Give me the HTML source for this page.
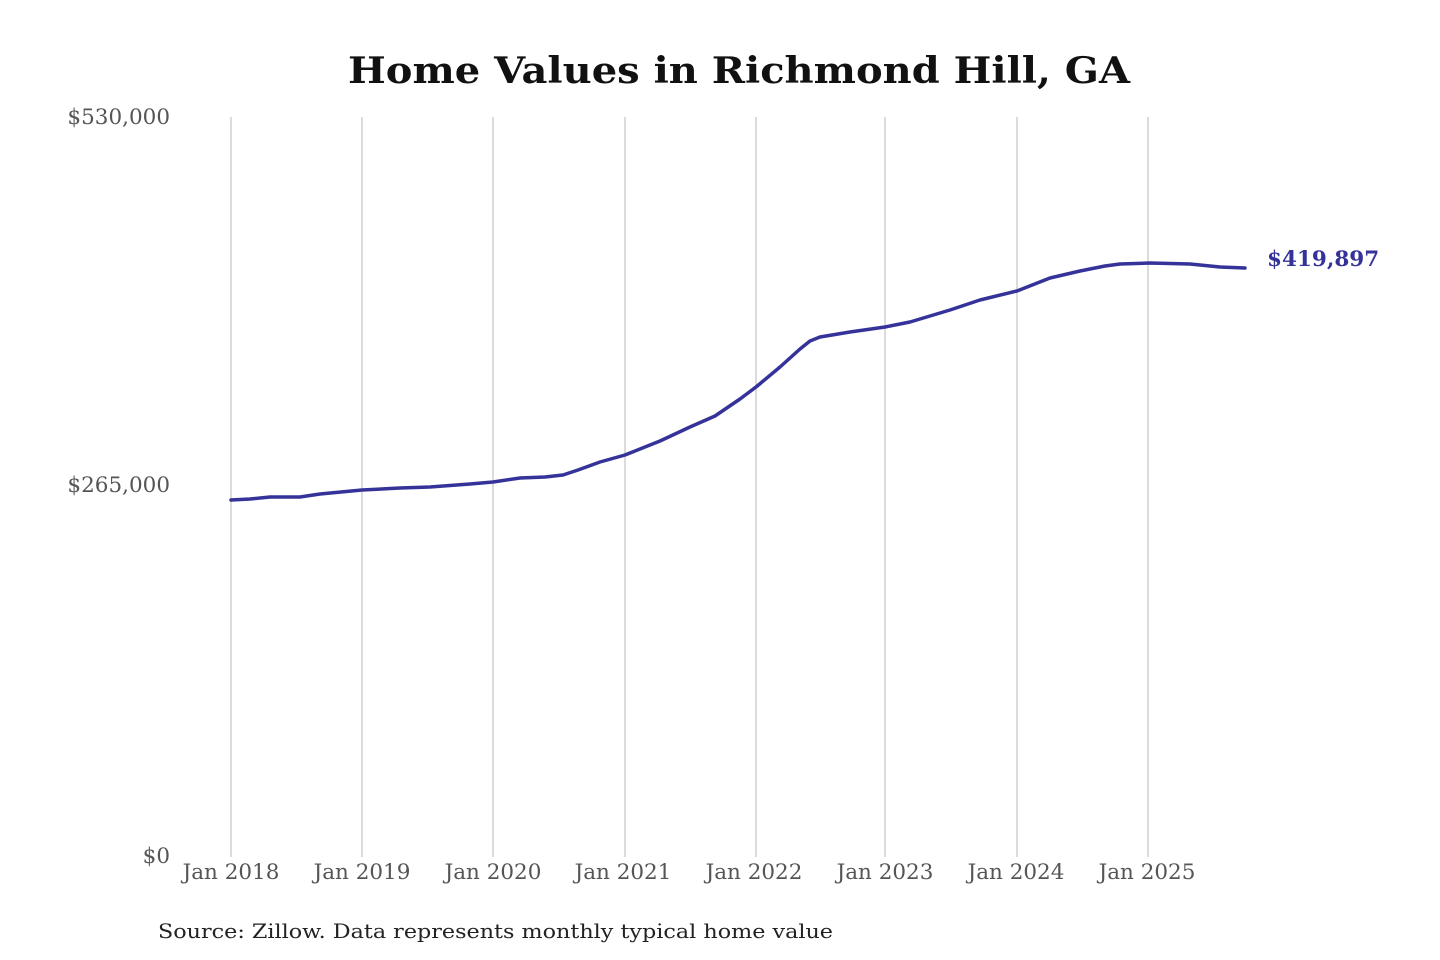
<!DOCTYPE html>
<html><head><meta charset="utf-8"><style>
html,body{margin:0;padding:0;background:#fff;}
svg{display:block;}
</style></head><body>
<svg width="1440" height="960" xmlns="http://www.w3.org/2000/svg" font-family="'DejaVu Serif','Liberation Serif',serif">
<rect width="1440" height="960" fill="#fff"/>
<text x="739" y="83" text-anchor="middle" font-size="36" font-weight="bold" fill="#111" textLength="782" lengthAdjust="spacingAndGlyphs">Home Values in Richmond Hill, GA</text>
<g stroke="#c8c8c8" stroke-width="1.3">
<line x1="231" y1="117" x2="231" y2="857"/>
<line x1="362" y1="117" x2="362" y2="857"/>
<line x1="493" y1="117" x2="493" y2="857"/>
<line x1="625" y1="117" x2="625" y2="857"/>
<line x1="756" y1="117" x2="756" y2="857"/>
<line x1="885" y1="117" x2="885" y2="857"/>
<line x1="1017" y1="117" x2="1017" y2="857"/>
<line x1="1148" y1="117" x2="1148" y2="857"/>
</g>
<g font-size="21.5" fill="#555" text-anchor="end">
<text x="170" y="124">$530,000</text>
<text x="170" y="492">$265,000</text>
<text x="170" y="863">$0</text>
</g>
<g font-size="21.5" fill="#555" text-anchor="middle">
<text x="231" y="879">Jan 2018</text>
<text x="362" y="879">Jan 2019</text>
<text x="493" y="879">Jan 2020</text>
<text x="623" y="879">Jan 2021</text>
<text x="754" y="879">Jan 2022</text>
<text x="885" y="879">Jan 2023</text>
<text x="1016" y="879">Jan 2024</text>
<text x="1147" y="879">Jan 2025</text>
</g>
<path fill="none" stroke="#35339a" stroke-width="3.5" stroke-linejoin="round" stroke-linecap="round"
d="M231,500 L250,499 L270,497 L300,497 L320,494 L362,490 L400,488 L430,487 L470,484 L493,482 L520,478 L545,477 L563,475 L578,470 L600,462 L625,455 L660,441 L690,427 L715,416 L740,399 L756,387 L780,367 L800,349 L810,341 L820,337 L850,332 L885,327 L910,322 L950,310 L980,300 L1017,291 L1050,278 L1080,271 L1105,266 L1120,264 L1150,263 L1190,264 L1220,267 L1245,268"/>
<text x="1267" y="266" font-size="21.5" font-weight="bold" fill="#35339a">$419,897</text>
<text x="158" y="938" font-size="20" fill="#222" textLength="675" lengthAdjust="spacingAndGlyphs">Source: Zillow. Data represents monthly typical home value</text>
</svg>
</body></html>
